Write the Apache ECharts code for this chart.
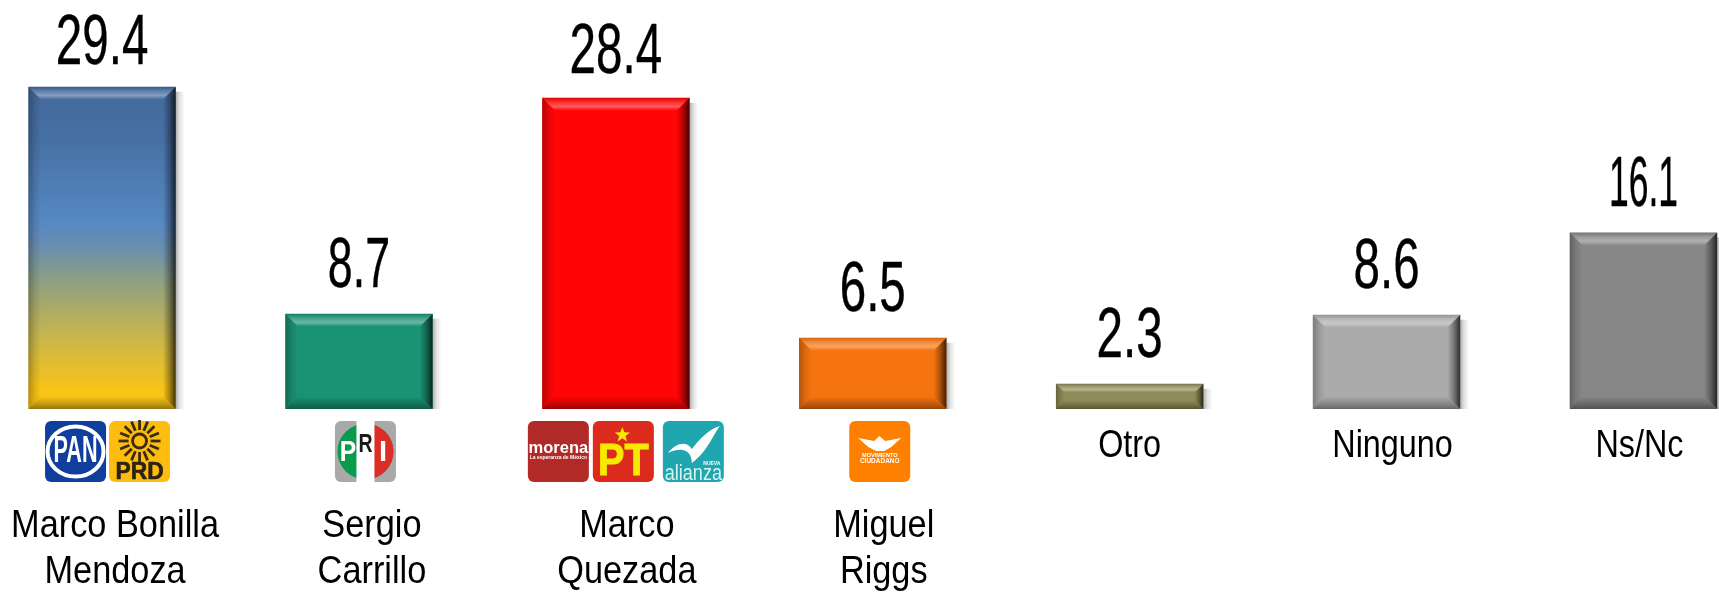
<!DOCTYPE html>
<html><head><meta charset="utf-8">
<style>html,body{margin:0;padding:0;background:#fff}#c{width:1719px;height:593px}</style>
<script src="https://cdn.jsdelivr.net/npm/echarts@6/dist/echarts.min.js"></script>
</head><body><div id="c"></div>
<script>
const categories = ['Marco Bonilla\nMendoza','Sergio\nCarrillo','Marco\nQuezada','Miguel\nRiggs','Otro','Ninguno','Ns/Nc'];
const values = [29.4, 8.7, 28.4, 6.5, 2.3, 8.6, 16.1];
const barColors = ['#4f81bd','#1a9274','#ff0505','#f57410','#8f8a58','#ababab','#878787'];
const logoSets = [['PAN','PRD'],['PRI'],['morena','PT','alianza'],['MC'],[],[],[]];

const BAR_RATIO = 0.574, BEVEL = 12.5;
const labelDx = [13,13,11,11,0,6,-4];
const valueScale = [0.67,0.63,0.67,0.67,0.67,0.67,0.5];
const valueDy = [4,0,2,0,0,0,0];
const logoDx = {PAN:-57,PRD:7,PRI:-24,morena:-88,PT:-23,alianza:47,MC:-23.5};

const vGrad = (stops) => ({type:'linear',x:0,y:0,x2:0,y2:1,colorStops:stops.map(s=>({offset:s[0],color:s[1]}))});
const hGrad = (stops) => ({type:'linear',x:0,y:0,x2:1,y2:0,colorStops:stops.map(s=>({offset:s[0],color:s[1]}))});
const blueGold = vGrad([[0,'#44699a'],[0.15,'#466fa3'],[0.42,'#5688c3'],[0.5,'#6a8fae'],[0.62,'#95a27c'],[0.78,'#c9b64c'],[0.94,'#f8c416'],[1,'#f8c416']]);

function renderBar(params, api){
  const i = api.value(0), v = api.value(1);
  const base = api.coord([i,0]), top = api.coord([i,v]);
  const w = api.size([1,0])[0]*BAR_RATIO;
  const x0 = base[0]-w/2, x1 = base[0]+w/2, y0 = top[1], y1 = base[1];
  const b = Math.min(BEVEL,(y1-y0)/3);
  const fill = i===0 ? blueGold : barColors[i];
  const poly = (pts,f)=>({type:'polygon',shape:{points:pts},style:{fill:f}});
  return {type:'group',children:[
    {type:'rect',shape:{x:x1,y:y0+5,width:9,height:y1-y0-5},style:{fill:hGrad([[0,'rgba(0,0,0,0.32)'],[0.4,'rgba(0,0,0,0.12)'],[1,'rgba(0,0,0,0)'] ])}},
    {type:'rect',shape:{x:x0,y:y0,width:w,height:y1-y0},style:{fill}},
    poly([[x0,y0],[x1,y0],[x1-b,y0+b],[x0+b,y0+b]],vGrad([[0,'rgba(0,0,0,0.14)'],[0.35,'rgba(255,255,255,0.16)'],[0.7,'rgba(255,255,255,0.34)'],[1,'rgba(255,255,255,0.04)']])),
    poly([[x0,y0],[x0+b,y0+b],[x0+b,y1-b],[x0,y1]],hGrad([[0,'rgba(0,0,0,0.28)'],[0.5,'rgba(0,0,0,0.1)'],[1,'rgba(0,0,0,0)']])),
    poly([[x1,y0],[x1-b,y0+b],[x1-b,y1-b],[x1,y1]],hGrad([[0,'rgba(0,0,0,0.02)'],[0.5,'rgba(0,0,0,0.32)'],[1,'rgba(0,0,0,0.74)']])),
    poly([[x0,y1],[x0+b,y1-b],[x1-b,y1-b],[x1,y1]],vGrad([[0,'rgba(0,0,0,0)'],[0.6,'rgba(0,0,0,0.22)'],[1,'rgba(0,0,0,0.4)']]))
  ]};
}
function renderValue(params, api){
  const i = api.value(0), v = api.value(1), top = api.coord([i,v]);
  return {type:'text',x:top[0],y:top[1]-10.5+valueDy[i],scaleX:valueScale[i],style:{text:v.toFixed(1),x:0,y:0,align:'center',verticalAlign:'bottom',fill:'#000',stroke:'#000',lineWidth:0.4,fontFamily:'"Liberation Sans Narrow","Liberation Sans"',fontSize:71,lineHeight:71}};
}
function renderCategory(params, api){
  const i = api.value(0), base = api.coord([i,0]);
  const two = categories[i].includes('\n');
  return {type:'text',x:base[0]+labelDx[i],y:two?549:446,scaleX:two?0.88:0.83,style:{text:categories[i],x:0,y:0,align:'center',verticalAlign:'middle',fill:'#000',fontFamily:'"Liberation Sans"',fontSize:39,lineHeight:46}};
}
const txt=(t,x,y,size,fill,o={})=>({type:'text',x,y,scaleX:o.sx||1,style:{text:t,x:0,y:0,align:'center',verticalAlign:'middle',fill,stroke:o.st?fill:undefined,lineWidth:o.st||0,fontFamily:'"Liberation Sans"',fontWeight:o.w||'bold',fontSize:size}});
const star=(cx,cy,r,fill)=>{const p=[];for(let k=0;k<10;k++){const a=-Math.PI/2+k*Math.PI/5,q=k%2?r*0.42:r;p.push([cx+q*Math.cos(a),cy+q*Math.sin(a)]);}return {type:'polygon',shape:{points:p},style:{fill}};};
function logo(name,x,y){
  const S=61, rr=(c)=>({type:'rect',shape:{x,y,width:S,height:S,r:6},style:{fill:c}});
  const cx=x+S/2, cy=y+S/2, out=[];
  if(name==='PAN'){
    out.push(rr('#0f3e9c'),
      {type:'ellipse',shape:{cx,cy,rx:28,ry:25},style:{fill:'#0f3e9c',stroke:'#fff',lineWidth:4}},
      txt('PAN',cx,cy+1,36,'#fff',{sx:0.6}));
  } else if(name==='PRD'){
    out.push(rr('#fdbd0e'));
    const sx=cx, sy=y+20;
    for(let k=0;k<16;k++){const a=k*Math.PI/8;out.push({type:'line',shape:{x1:sx+11*Math.cos(a),y1:sy+11*Math.sin(a),x2:sx+21*Math.cos(a),y2:sy+21*Math.sin(a)},style:{stroke:'#3a2a10',lineWidth:2.8}});}
    out.push({type:'circle',shape:{cx:sx,cy:sy,r:7},style:{fill:'#fdbd0e',stroke:'#3a2a10',lineWidth:2.8}});
    out.push(txt('PRD',cx,y+51,24,'#2e2212',{sx:0.95,st:0.6}));
  } else if(name==='PRI'){
    out.push(rr('#a9a9a9'),
      {type:'circle',shape:{cx,cy:cy,r:28},style:{fill:'#0a9a4c'}},
      {type:'sector',shape:{cx,cy:cy,r:28,startAngle:-Math.PI/2,endAngle:Math.PI/2},style:{fill:'#dc2e26'}},
      {type:'rect',shape:{x:cx-9,y,width:18,height:S},style:{fill:'#fff'}},
      txt('P',x+13,cy+1,29,'#fff',{sx:0.85}),txt('R',cx,cy-7,26,'#1a1a1a',{sx:0.75}),txt('I',x+48,cy+1,29,'#fff'));
  } else if(name==='morena'){
    out.push(rr('#b12a27'),txt('morena',cx,cy-3,16.5,'#fff'),txt('La esperanza de México',cx,cy+6.5,5,'#fff'));
  } else if(name==='PT'){
    out.push(rr('#dc2a1c'),star(cx-1,y+14,8,'#f5ea00'),txt('PT',cx,y+42,44,'#f5ea00',{sx:0.9,st:1}));
  } else if(name==='alianza'){
    out.push(rr('#1fa6ae'),
      {type:'path',shape:{pathData:`M ${x+5} ${y+32} C ${x+14} ${y+21} ${x+24} ${y+20} ${x+29} ${y+28} C ${x+37} ${y+18} ${x+46} ${y+8} ${x+57} ${y+5} C ${x+50} ${y+14} ${x+45} ${y+30} ${x+29} ${y+42} C ${x+29} ${y+30} ${x+20} ${y+25} ${x+5} ${y+32} Z`},style:{fill:'#fff'}},
      txt('NUEVA',x+49,y+43,5,'#fff'),txt('alianza',cx,y+53,22,'#d8f3f4',{sx:0.82,w:'normal'}));
  } else if(name==='MC'){
    out.push(rr('#ff8000'),
      {type:'polygon',shape:{points:[[x+9,y+17],[x+25,y+20],[x+30,y+15],[x+36,y+20],[x+52,y+17],[x+42,y+26],[x+35,y+30],[x+27,y+30],[x+19,y+26]]},style:{fill:'#fff'}},
      txt('MOVIMIENTO',cx,y+34,5.5,'#fff'),txt('CIUDADANO',cx,y+40,6.5,'#fff'));
  }
  return out;
}
function renderLogos(params, api){
  const i = api.value(0), base = api.coord([i,0]);
  const children=[];
  logoSets[i].forEach(n=>children.push(...logo(n,base[0]+logoDx[n],421)));
  return {type:'group',children};
}
const rows = values.map((v,i)=>[i,v]);
const mk=(renderItem,z)=>({type:'custom',data:rows,encode:{x:0,y:1},renderItem,z,silent:true,clip:false});
const chart = echarts.init(document.getElementById('c'),null,{renderer:'canvas'});
chart.setOption({
  animation:false,backgroundColor:'#fff',
  grid:{left:-26.4,right:-52.9,top:25.4,bottom:184,outerBoundsMode:'none'},
  xAxis:{type:'category',data:categories,show:false},
  yAxis:{type:'value',min:0,max:35,interval:5,show:false},
  series:[mk(renderBar,2),mk(renderValue,3),mk(renderCategory,3),mk(renderLogos,3)]
});
</script></body></html>
